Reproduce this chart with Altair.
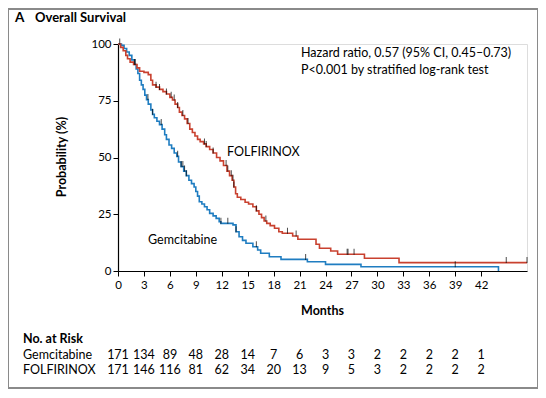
import altair as alt
import pandas as pd

# ---------------- data ----------------
gem_t = [0, 0.4, 0.7, 1.0, 1.3, 1.6, 1.9, 2.1, 2.3, 2.5, 2.7, 2.9, 3.1, 3.3, 3.5, 3.8, 4.0, 4.2,
         4.5, 4.8, 5.1, 5.4, 5.6, 5.9, 6.2, 6.5, 6.8, 7.0, 7.3, 7.6, 7.9, 8.2, 8.5, 8.8, 9.0, 9.2,
         9.4, 9.7, 10.0, 10.3, 10.6, 11.0, 11.35, 11.7, 11.9, 13.3, 13.65, 14.0, 14.4, 14.8, 15.6,
         16.15, 16.5, 17.5, 18.85, 21.9, 24.0, 28.1, 44.0]
gem_s = [100, 99.4, 98, 96.5, 95, 93, 91, 89, 87, 84, 82, 80, 77.5, 75.5, 73.5, 71, 69, 67.5,
         66, 64.5, 62.5, 60, 58, 55.5, 54, 52, 50.5, 48, 46, 44, 42, 40, 38.5, 37, 35, 33,
         30.5, 29.5, 28.3, 27, 25.4, 24.3, 23.2, 21.7, 21, 20.3, 17.3, 15.1, 13.5, 12.2, 10.7,
         9.25, 7.8, 6.3, 5.1, 4.1, 2.9, 1.9, 0]

fol_t = [0, 0.3, 0.6, 0.9, 1.1, 1.4, 1.8, 2.2, 2.5, 3.0, 3.5, 3.8, 4.0, 4.4, 4.8, 5.2, 5.6, 6.0,
         6.3, 6.6, 6.9, 7.1, 7.4, 7.7, 8.0, 8.3, 8.6, 8.9, 9.2, 9.5, 9.9, 10.2, 10.6, 11.0, 11.4,
         11.8, 12.2, 12.6, 12.9, 13.2, 13.4, 13.6, 13.8, 14.2, 14.7, 15.1, 15.6, 16.0, 16.3, 16.6,
         16.9, 17.2, 17.6, 18.1, 18.6, 19.0, 20.2, 20.8, 22.9, 23.3, 24.6, 25.4, 28.5, 32.5, 47.3]
fol_s = [100, 98.5, 97, 95, 93.5, 92, 91, 89.5, 88, 87.5, 86.5, 84, 82, 81, 80, 79, 78, 76.5,
         75.3, 73.5, 72, 70, 68.5, 67, 65, 62.5, 61, 59.5, 58, 57, 56, 54.8, 53.5, 52, 50,
         48.5, 46.5, 44, 42, 40, 37, 34, 32.5, 31.5, 30.3, 29.5, 28.3, 26.5, 25, 23.5,
         22, 21, 20, 18.8, 17.3, 16.6, 15.4, 14, 11.8, 10, 8.8, 7.4, 5.6, 3.7, 3.7]

gem_censor = [0.2, 3.46, 4.0, 5.0, 6.9, 7.3, 7.5, 7.7, 7.9, 11.9, 12.7, 13.65, 16.0, 21.7, 39.0]
fol_censor = [1.9, 2.0, 4.4, 4.8, 5.6, 6.15, 6.5, 6.9, 7.5, 8.1, 10.0, 10.2, 11.0, 12.5, 12.7,
              13.1, 13.3, 13.4, 16.0, 17.1, 19.6, 20.6, 26.5, 26.6, 27.3, 44.9, 47.3]

risk_months = [0, 3, 6, 9, 12, 15, 18, 21, 24, 27, 30, 33, 36, 39, 42]
risk_gem = [171, 134, 89, 48, 28, 14, 7, 6, 3, 3, 2, 2, 2, 2, 1]
risk_fol = [171, 146, 116, 81, 62, 34, 20, 13, 9, 5, 3, 2, 2, 2, 2]

x_ticks = [0, 3, 6, 9, 12, 15, 18, 21, 24, 27, 30, 33, 36, 39, 42]
y_ticks = [0, 25, 50, 75, 100]

BLUE = "#1f7dc1"
RED = "#c9412f"
FONT = "Lato"


def step_value(ts, ss, m):
    v = ss[0]
    for t, s in zip(ts, ss):
        if t <= m:
            v = s
    return v


curves = pd.concat([
    pd.DataFrame({"month": gem_t, "pct": gem_s, "grp": "Gemcitabine"}),
    pd.DataFrame({"month": fol_t, "pct": fol_s, "grp": "FOLFIRINOX"}),
])
censor = pd.DataFrame({
    "month": gem_censor + fol_censor,
    "pct": [step_value(gem_t, gem_s, m) for m in gem_censor]
    + [step_value(fol_t, fol_s, m) for m in fol_censor],
})
risk = pd.DataFrame({"month": risk_months, "gem": risk_gem, "fol": risk_fol})

W, H = 409, 227
xs = alt.Scale(domain=[0, 47.3], nice=False, zero=False)
ys = alt.Scale(domain=[0, 100], nice=False)

x_axis = alt.Axis(
    values=x_ticks, title=None, grid=False, domainColor="black", tickColor="black",
    tickSize=5, labelFont=FONT, labelFontSize=11.5, labelColor="black", labelPadding=3,
    labelFlush=False, labelOverlap=False, domainWidth=1.2)
y_axis = alt.Axis(
    values=y_ticks, title=None, grid=False, domainColor="black", tickColor="black",
    tickSize=5, labelFont=FONT, labelFontSize=11.5, labelColor="black", labelPadding=2,
    labelOverlap=False, domainWidth=1.2)


def X():
    return alt.X("month:Q", scale=xs, axis=x_axis)


def Y():
    return alt.Y("pct:Q", scale=ys, axis=y_axis)


lines = alt.Chart(curves).mark_line(interpolate="step-after", strokeWidth=1.6).encode(
    x=X(), y=Y(),
    color=alt.Color("grp:N", scale=alt.Scale(domain=["Gemcitabine", "FOLFIRINOX"],
                                             range=[BLUE, RED]), legend=None),
)

ticks = alt.Chart(censor).mark_tick(
    orient="vertical", size=6, thickness=1, color="black", yOffset=-2.5
).encode(x=X(), y=Y())

one = pd.DataFrame({"a": [0]})


def label(text, x, y, size=12.5, weight="normal", align="left", angle=0):
    return alt.Chart(one).mark_text(
        text=text, font=FONT, fontSize=size, fontWeight=weight, align=align,
        baseline="middle", color="black", angle=angle
    ).encode(x=alt.value(x), y=alt.value(y))


texts = [
    label("A", -103, -26, size=13.5, weight="bold"),
    label("Overall Survival", -83, -26, size=13, weight="bold"),
    label("Hazard ratio, 0.57 (95% CI, 0.45\u20130.73)", 183, 9),
    label("P<0.001 by stratified log-rank test", 183, 26),
    label("FOLFIRINOX", 109, 108),
    label("Gemcitabine", 30, 196),
    label("Probability (%)", -56, 113, size=12.5, weight="bold", align="center", angle=270),
    label("Months", W / 2, 267, size=12.5, weight="bold", align="center"),
    label("No. at Risk", -95, 295, size=12.5, weight="bold"),
    label("Gemcitabine", -95, 311, size=12.5),
    label("FOLFIRINOX", -95, 326, size=12.5),
]

risk_gem_txt = alt.Chart(risk).mark_text(font=FONT, fontSize=12.5, color="black",
                                         align="center", baseline="middle").encode(
    x=X(), y=alt.value(311), text="gem:Q")
risk_fol_txt = alt.Chart(risk).mark_text(font=FONT, fontSize=12.5, color="black",
                                         align="center", baseline="middle").encode(
    x=X(), y=alt.value(326), text="fol:Q")

frame = alt.Chart(one).mark_rect(fillOpacity=0, stroke="#8a8a8a", strokeWidth=2).encode(
    x=alt.value(-110), x2=alt.value(420), y=alt.value(-35), y2=alt.value(344))

chart = alt.layer(frame, lines, ticks, risk_gem_txt, risk_fol_txt, *texts).properties(
    width=W, height=H,
    autosize=alt.AutoSizeParams(type="none"),
    padding={"left": 110, "top": 36, "right": 11, "bottom": 119},
).configure_view(strokeWidth=0).configure(background="white")

chart.save("out.html", embed_options={"renderer": "svg", "actions": False})
